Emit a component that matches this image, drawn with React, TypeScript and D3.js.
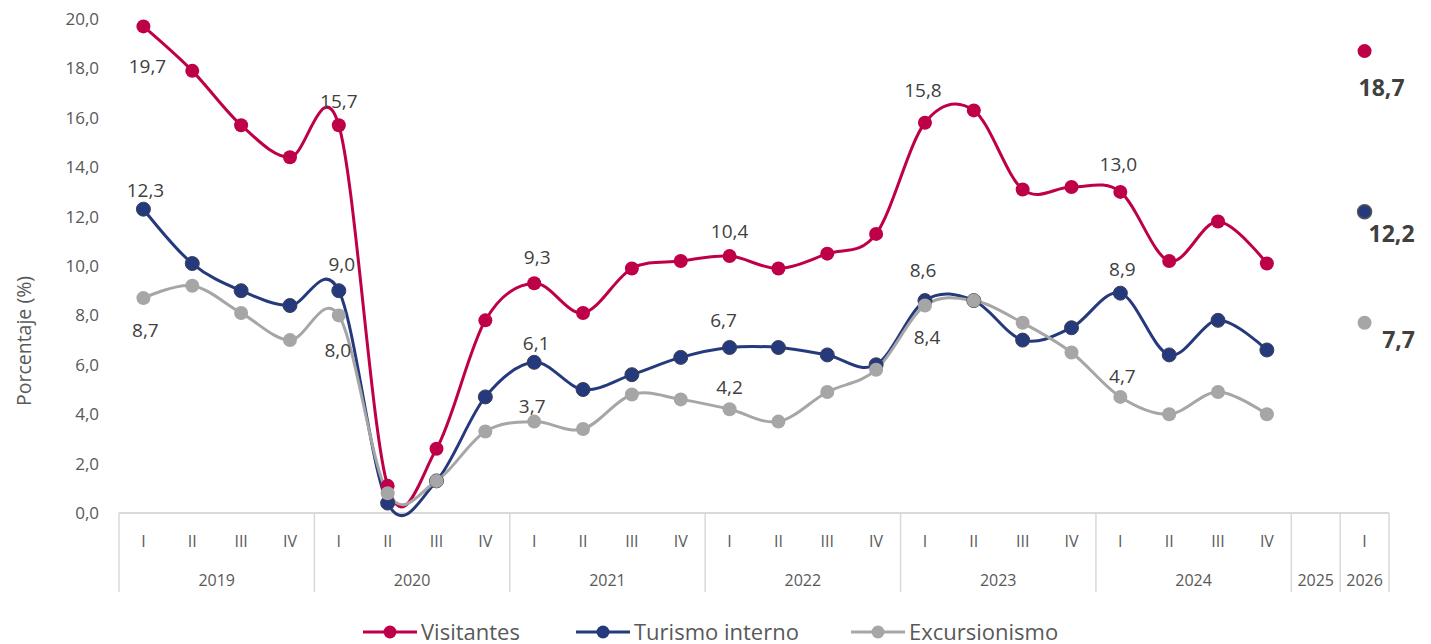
import React from "react";
import * as d3 from "d3";

const years = ["2019", "2020", "2021", "2022", "2023", "2024", "2025", "2026"];
const quartersPerYear = [
  ["I", "II", "III", "IV"],
  ["I", "II", "III", "IV"],
  ["I", "II", "III", "IV"],
  ["I", "II", "III", "IV"],
  ["I", "II", "III", "IV"],
  ["I", "II", "III", "IV"],
  [""],
  ["I"],
];
const visitantes = [19.7, 17.9, 15.7, 14.4, 15.7, 1.1, 2.6, 7.8, 9.3, 8.1, 9.9, 10.2, 10.4, 9.9, 10.5, 11.3, 15.8, 16.3, 13.1, 13.2, 13.0, 10.2, 11.8, 10.1];
const turismo = [12.3, 10.1, 9.0, 8.4, 9.0, 0.4, 1.3, 4.7, 6.1, 5.0, 5.6, 6.3, 6.7, 6.7, 6.4, 6.0, 8.6, 8.6, 7.0, 7.5, 8.9, 6.4, 7.8, 6.6];
const excursionismo = [8.7, 9.2, 8.1, 7.0, 8.0, 0.8, 1.3, 3.3, 3.7, 3.4, 4.8, 4.6, 4.2, 3.7, 4.9, 5.8, 8.4, 8.6, 7.7, 6.5, 4.7, 4.0, 4.9, 4.0];
const latest = [18.7, 12.2, 7.7];
const yTicks = [0, 2, 4, 6, 8, 10, 12, 14, 16, 18, 20];

const seriesNames = ["Visitantes", "Turismo interno", "Excursionismo"];
const colors = ["#BE0049", "#253A7D", "#A6A6A6"];
// labelled point indices with label offsets [index, dx, dy(baseline from point)]
const labelsVis: [number, number, number][] = [[0, 4, 47], [4, 0, -17], [8, 3, -19], [12, 0, -18], [16, -2, -26], [20, -2, -21]];
const labelsTur: [number, number, number][] = [[0, 2, -12], [4, 3, -20], [8, 2, -12], [12, -6, -21], [16, -2, -24], [20, 2, -17]];
const labelsExc: [number, number, number][] = [[0, 2, 39], [4, -1, 42], [8, -2, -9], [12, 0, -15], [16, 2, 38], [20, 2, -14]];
const latestOffsets: [number, number][] = [[17, 45], [27, 30], [34, 25]];

const fmt = (v: number) => v.toFixed(1).replace(".", ",");

export default function App() {
  const W = 1431, H = 644;
  const left = 119, right = 1389, top = 19, bottom = 513;
  const cats: string[] = [];
  quartersPerYear.forEach((qs, yi) => qs.forEach((q, qi) => cats.push(years[yi] + "-" + qi)));
  const x = d3.scaleBand<string>().domain(cats).range([left, right]).padding(0);
  const bw = x.bandwidth();
  const cx = (i: number) => (x(cats[i]) as number) + bw / 2;
  const y = d3.scaleLinear().domain([0, 20]).range([bottom, top]);
  const line = d3.line<number>().x((_, i) => cx(i)).y((d) => y(d)).curve(d3.curveCatmullRom.alpha(0));

  const all = [visitantes, turismo, excursionismo];
  const labelSets = [labelsVis, labelsTur, labelsExc];
  const lastIdx = cats.length - 1;
  const textColor = "#595959";
  const font = "'Open Sans', 'Noto Sans', sans-serif";

  const bounds: number[] = [left];
  let acc = 0;
  quartersPerYear.forEach((qs) => {
    acc += qs.length;
    bounds.push(left + acc * bw);
  });

  const legendItems = [
    { x: 363, name: seriesNames[0], c: colors[0] },
    { x: 576, name: seriesNames[1], c: colors[1] },
    { x: 851, name: seriesNames[2], c: colors[2] },
  ];

  return (
    <div style={{ position: "absolute", left: 0, top: 0 }}>
      <svg width={W} height={H} style={{ display: "block", fontFamily: font }}>
        <rect width={W} height={H} fill="#fff" />
        {yTicks.map((t) => (
          <text key={t} x={99} y={y(t)} dy="0.35em" textAnchor="end" fontSize={17} fill={textColor}>
            {fmt(t)}
          </text>
        ))}
        <text transform={`translate(31,341) rotate(-90)`} textAnchor="middle" fontSize={19.5} fill={textColor}>
          Porcentaje (%)
        </text>
        <line x1={left} x2={right} y1={bottom} y2={bottom} stroke="#D9D9D9" strokeWidth={2} />
        {bounds.map((b, i) => (
          <line key={i} x1={b} x2={b} y1={bottom} y2={592} stroke="#D9D9D9" strokeWidth={1.5} />
        ))}
        {cats.map((c, i) => {
          const [yr, qi] = c.split("-");
          const yi = years.indexOf(yr);
          return (
            <text key={c} x={cx(i)} y={541} dy="0.35em" textAnchor="middle" fontSize={16} fill={textColor}>
              {quartersPerYear[yi][+qi]}
            </text>
          );
        })}
        {years.map((yr, yi) => (
          <text key={yr} x={(bounds[yi] + bounds[yi + 1]) / 2} y={580} dy="0.35em" textAnchor="middle" fontSize={16} fill={textColor}>
            {yr}
          </text>
        ))}
        {all.map((s, si) => (
          <path key={si} d={line(s) || ""} fill="none" stroke={colors[si]} strokeWidth={3} />
        ))}
        {all.map((s, si) =>
          s.map((v, i) => (
            <circle key={si + "-" + i} cx={cx(i)} cy={y(v)} r={7} fill={colors[si]} stroke={si === 1 ? "#3a3f55" : colors[si]} strokeWidth={si === 1 ? 1 : 0} />
          ))
        )}
        {latest.map((v, si) => (
          <circle key={"l" + si} cx={cx(lastIdx)} cy={y(v)} r={7} fill={colors[si]} stroke={si === 1 ? "#555" : colors[si]} strokeWidth={si === 1 ? 1.5 : 0} />
        ))}
        {labelSets.map((ls, si) =>
          ls.map(([i, dx, dy]) => {
            const v = all[si][i];
            return (
              <text key={si + "l" + i} x={cx(i) + dx} y={y(v) + dy} textAnchor="middle" fontSize={19} fill="#404040">
                {fmt(v)}
              </text>
            );
          })
        )}
        {latest.map((v, si) => (
          <text key={"lt" + si} x={cx(lastIdx) + latestOffsets[si][0]} y={y(v) + latestOffsets[si][1]} textAnchor="middle" fontSize={23} fontWeight="bold" fill="#404040">
            {fmt(v)}
          </text>
        ))}
        {legendItems.map((it) => (
          <g key={it.name}>
            <line x1={it.x} x2={it.x + 54} y1={632} y2={632} stroke={it.c} strokeWidth={3} />
            <circle cx={it.x + 27} cy={632} r={6.5} fill={it.c} />
            <text x={it.x + 58} y={640} fontSize={22} fill={textColor}>
              {it.name}
            </text>
          </g>
        ))}
      </svg>
    </div>
  );
}
